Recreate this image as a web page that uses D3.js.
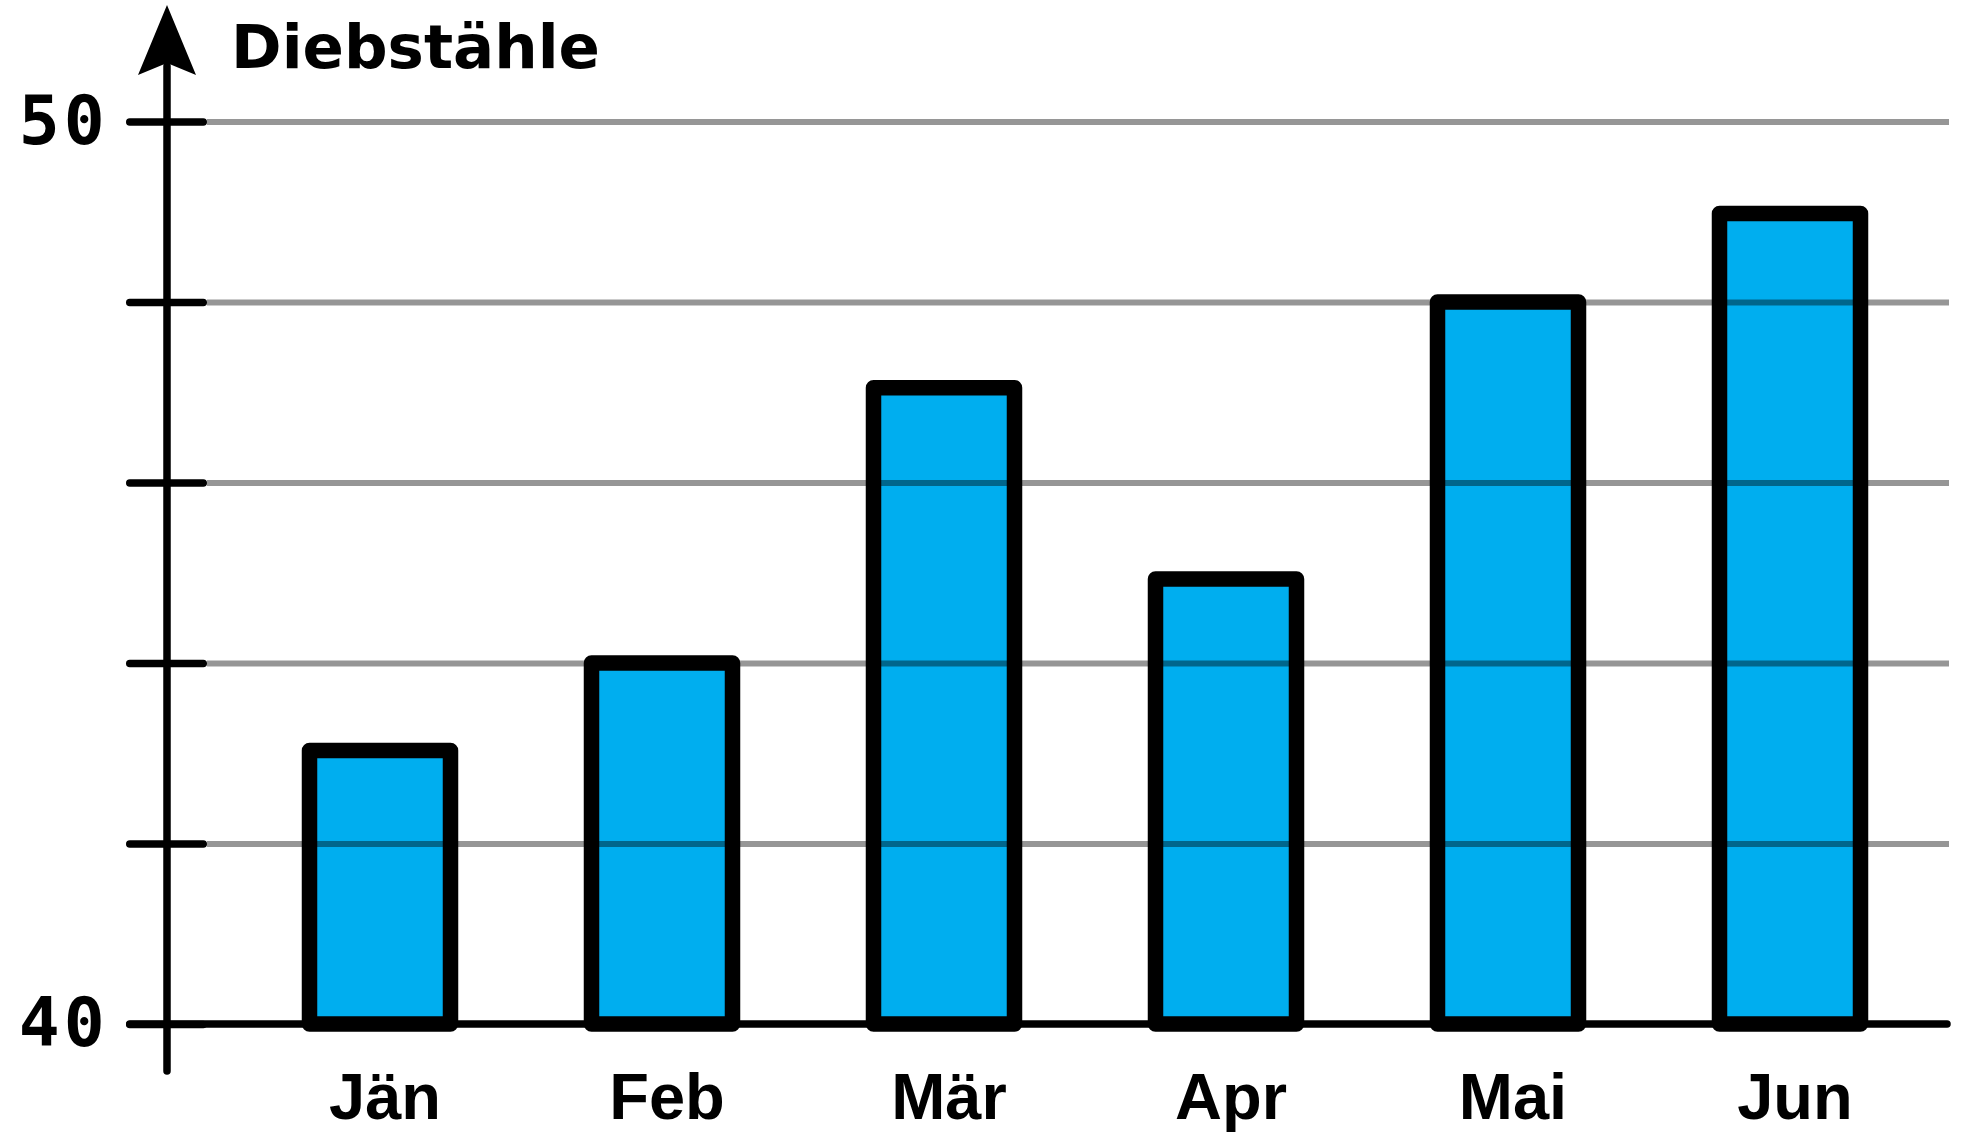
<!DOCTYPE html>
<html>
<head>
<meta charset="utf-8">
<script src="https://cdn.jsdelivr.net/npm/d3@7"></script>
<style>
  html, body { margin: 0; padding: 0; background: #ffffff; }
  svg { display: block; }
</style>
</head>
<body>
<script>
// Monthly thefts, first half of the year
const months = ["Jän", "Feb", "Mär", "Apr", "Mai", "Jun"];
const thefts = [43.03, 44.0, 47.05, 44.93, 48.0, 48.98];
const yTicks = [40, 42, 44, 46, 48, 50];
const yLabelled = [40, 50];
const yTitle = "Diebstähle";

const W = 1962, H = 1133;
const axisX = 167;          // vertical axis position
const tickEnd = 203.25;     // right end of the black ticks (before round cap)
const tickLen = 73.5;
const gridStart = 207, gridEnd = 1949;

const svg = d3.select("body").append("svg")
  .attr("width", W).attr("height", H);

const y = d3.scaleLinear().domain([40, 50]).range([1024, 121.5]);
const x = d3.scaleBand().domain(months)
  .range([axisX + 1.5, axisX + 1.5 + 6.5 * 282])
  .paddingInner(0.5).paddingOuter(0.5);

// Bars
svg.append("g").selectAll("rect")
  .data(months.map((m, i) => ({ m, v: thefts[i] })))
  .join("rect")
  .attr("x", d => x(d.m))
  .attr("width", x.bandwidth())
  .attr("y", d => y(d.v))
  .attr("height", d => y(40) - y(d.v))
  .attr("fill", "#00aeef")
  .attr("stroke", "#000")
  .attr("stroke-width", 15.5)
  .attr("stroke-linejoin", "round");

// Gridlines, translucent so they darken the bars they cross
const grid = svg.append("g")
  .attr("transform", `translate(${gridStart},0)`)
  .call(d3.axisRight(y).tickValues(yTicks.filter(v => v !== 40))
    .tickSize(gridEnd - gridStart).tickFormat(""));
grid.select(".domain").remove();
grid.selectAll("line")
  .attr("stroke", "#000").attr("stroke-opacity", 0.41).attr("stroke-width", 6);

// Left ticks and labels
const left = svg.append("g")
  .attr("transform", `translate(${tickEnd},0)`)
  .call(d3.axisLeft(y).tickValues(yTicks).tickSize(tickLen).tickPadding(21)
    .tickFormat(v => yLabelled.includes(v) ? String(v) : ""));
left.select(".domain").remove();
left.selectAll("line")
  .attr("stroke", "#000").attr("stroke-width", 7.5).attr("stroke-linecap", "round");
left.selectAll("text")
  .attr("fill", "#000")
  .attr("font-family", "'DejaVu Sans Mono', monospace")
  .attr("font-weight", "bold")
  .attr("font-size", 68)
  .attr("letter-spacing", 4)
  .attr("dy", "0.32em");

// Baseline
svg.append("line")
  .attr("x1", 129.75).attr("x2", 1947)
  .attr("y1", y(40)).attr("y2", y(40))
  .attr("stroke", "#000").attr("stroke-width", 7.5).attr("stroke-linecap", "round");

// Vertical axis with arrow head
svg.append("line")
  .attr("x1", axisX).attr("x2", axisX)
  .attr("y1", 1071).attr("y2", 66)
  .attr("stroke", "#000").attr("stroke-width", 7.5).attr("stroke-linecap", "round");
const head = d3.path();
head.moveTo(axisX, 5);
head.lineTo(axisX + 29, 75);
head.lineTo(axisX, 63);
head.lineTo(axisX - 29, 75);
head.closePath();
svg.append("path").attr("d", head.toString()).attr("fill", "#000");

// Month labels
const bottom = svg.append("g")
  .attr("transform", `translate(0,${y(40)})`)
  .call(d3.axisBottom(x).tickSize(0).tickPadding(49));
bottom.select(".domain").remove();
bottom.selectAll("text")
  .attr("fill", "#000")
  .attr("font-family", "'Liberation Sans', Arial, sans-serif")
  .attr("font-weight", "bold")
  .attr("font-size", 65)
  .attr("dx", 5);

// Axis title
svg.append("text")
  .attr("x", 231).attr("y", 68)
  .attr("font-family", "'DejaVu Sans', sans-serif")
  .attr("font-weight", "bold")
  .attr("font-size", 61)
  .attr("letter-spacing", 0)
  .attr("fill", "#000")
  .text(yTitle);
</script>
</body>
</html>
